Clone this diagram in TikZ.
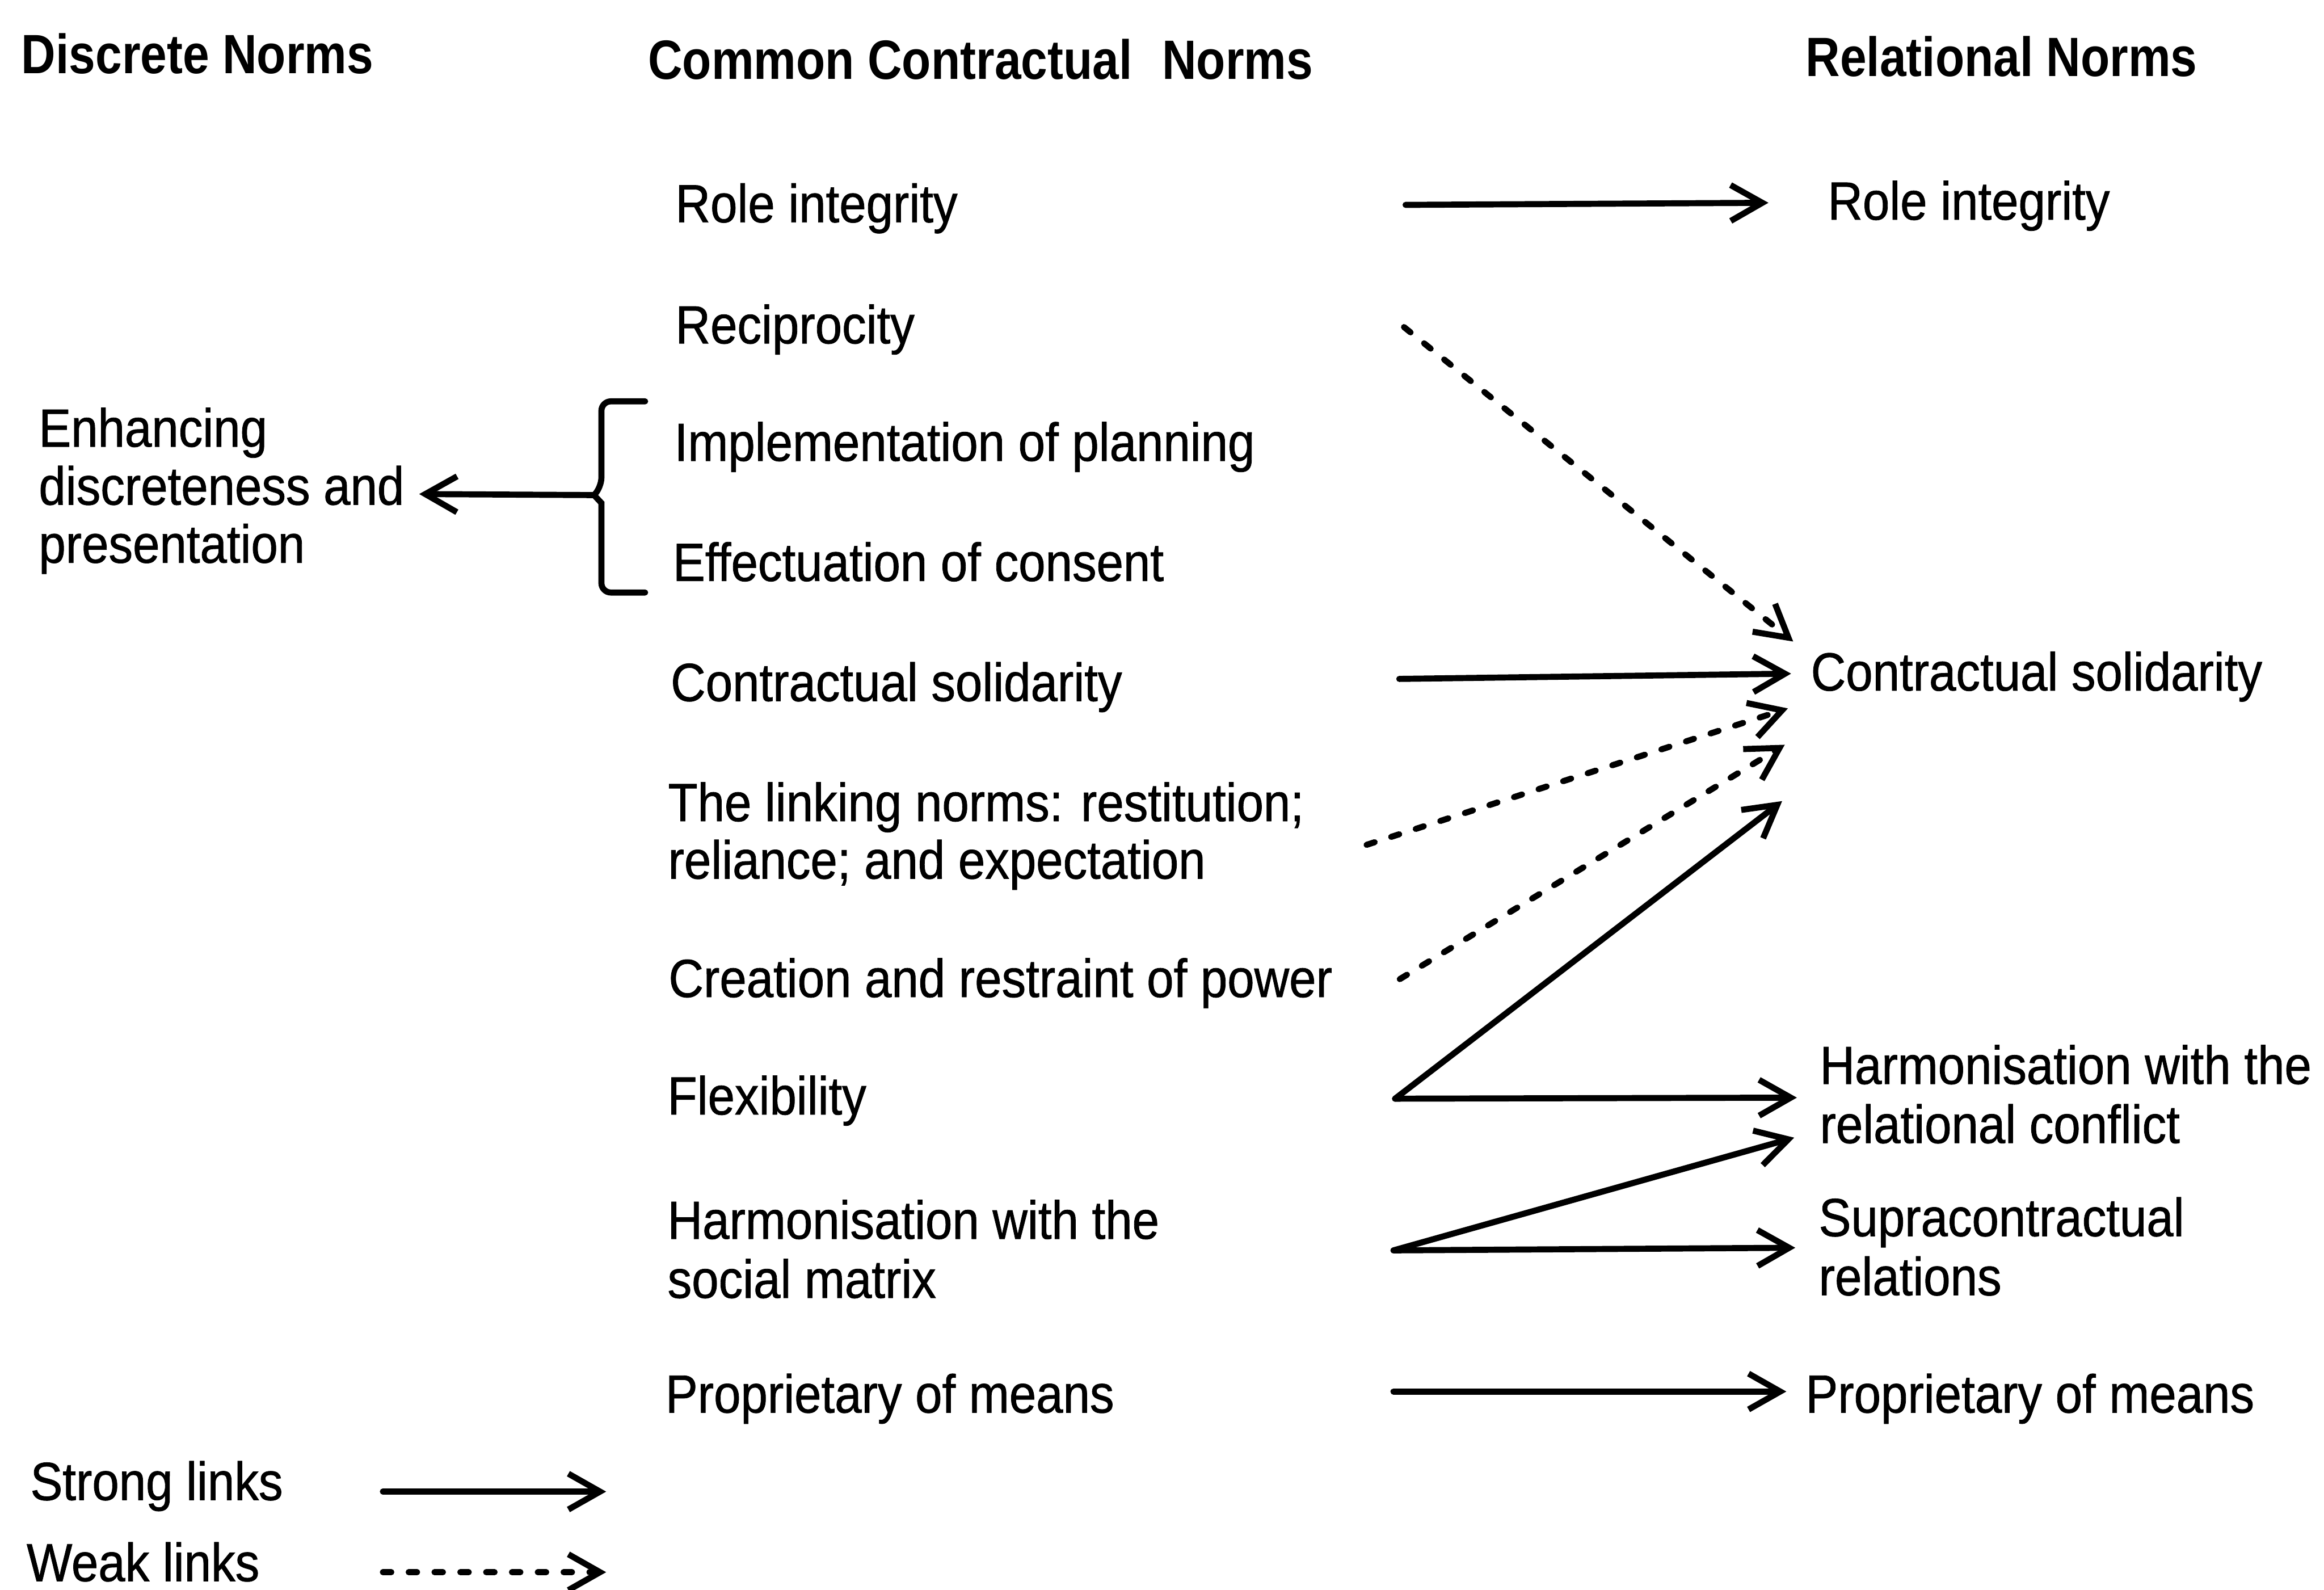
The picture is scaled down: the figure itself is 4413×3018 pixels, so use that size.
\documentclass[tikz,border=0pt]{standalone}
\usepackage{fontspec}
\setmainfont{Liberation Sans}[FakeStretch=0.9, FakeBold=0.9]
\newfontfamily\headfont{Liberation Sans}[FakeStretch=0.86]
\usetikzlibrary{arrows.meta}
% multi-line label whose baseline is that of its first line
\newcommand{\lns}[1]{\begin{tabular}[t]{@{}l@{}}#1\end{tabular}}

\begin{document}
\begin{tikzpicture}[x=0.01cm, y=-0.01cm,
  txt/.style={anchor=base west, inner sep=0pt,
    font=\fontsize{29pt}{31.9pt}\selectfont},
  head/.style={anchor=base west, inner sep=0pt,
    font=\headfont\bfseries\fontsize{29.9pt}{32pt}\selectfont},
  link/.style={line width=0.115cm, line cap=round, line join=round,
    -{Straight Barb[length=0.6cm,width=0.68cm]}},
  strong/.style={link},
  weak/.style={link, dash pattern=on 0.16cm off 0.33cm},
  brace/.style={line width=0.115cm, line cap=round},
]
\fill[white] (0,0) rectangle (4413,3018);
\useasboundingbox (0,0) rectangle (4413,3018);

% column headings
\node[head] (hdisc) at (40,140) {Discrete Norms};
\node[head] (hcomm) at (1230,150) {Common Contractual\hspace{0.3em} Norms};
\node[head] (hrel)  at (3428,145) {Relational Norms};

% discrete norms
\node[txt] (d-enh) at (73,848)
  {\lns{Enhancing\\[-0.02cm] discreteness and\\[-0.02cm] presentation}};

% common contractual norms
\node[txt] (c-role) at (1282,422)  {Role integrity};
\node[txt] (c-rec)  at (1282,652)  {Reciprocity};
\node[txt] (c-plan) at (1280,875)  {Implementation of planning};
\node[txt] (c-cons) at (1277,1103) {Effectuation of consent};
\node[txt] (c-sol)  at (1273,1331) {Contractual solidarity};
\node[txt] (c-link) at (1268,1559)
  {\lns{The linking norms: restitution;\\[-0.03cm] reliance; and expectation}};
\node[txt] (c-pow)  at (1269,1893) {Creation and restraint of power};
\node[txt] (c-flex) at (1267,2116) {Flexibility};
\node[txt] (c-soc)  at (1267,2352) {\lns{Harmonisation with the\\ social matrix}};
\node[txt] (c-prop) at (1263,2682) {Proprietary of means};

% relational norms
\node[txt] (r-role) at (3470,417)  {Role integrity};
\node[txt] (r-sol)  at (3438,1311) {Contractual solidarity};
\node[txt] (r-conf) at (3455,2058) {\lns{Harmonisation with the\\ relational conflict}};
\node[txt] (r-supr) at (3453,2347) {\lns{Supracontractual\\ relations}};
\node[txt] (r-prop) at (3428,2682) {Proprietary of means};

% legend
\node[txt] (k-strong) at (57,2848) {Strong links};
\node[txt] (k-weak)   at (50,3002) {Weak links};

% connector end points
\coordinate (role-out) at (2669,389);   \coordinate (role-in) at (3358,385);
\coordinate (rec-out)  at (2666,621);   \coordinate (sol-in1) at (3405,1218);
\coordinate (sol-out)  at (2657,1289);  \coordinate (sol-in2) at (3401,1279);
\coordinate (link-out) at (2595,1604);  \coordinate (sol-in3) at (3395,1345);
\coordinate (pow-out)  at (2658,1859);  \coordinate (sol-in4) at (3389,1414);
\coordinate (flex-out) at (2649,2086);  \coordinate (sol-in5) at (3384,1521);
\coordinate (conf-in1) at (3412,2084);
\coordinate (soc-out)  at (2646,2374);  \coordinate (conf-in2) at (3407,2160);
\coordinate (supr-in)  at (3409,2369);
\coordinate (prop-out) at (2646,2642);  \coordinate (prop-in) at (3392,2642);
\coordinate (cusp)     at (1128,940);   \coordinate (enh-in)  at (796,938);
\coordinate (ks-a) at (727,2832);       \coordinate (ks-b) at (1151,2832);
\coordinate (kw-a) at (727,2985);       \coordinate (kw-b) at (1151,2985);

% bracket grouping planning and consent
\draw[brace] (1225,762) [rounded corners=0.18cm] -| (1142,925)
  [sharp corners] -- (cusp) -- (1142,955)
  [rounded corners=0.18cm] |- (1225,1125);
\draw[strong] (cusp) -- (enh-in);

% links between the norms
\draw[strong] (role-out) -- (role-in);
\draw[weak]   (rec-out)  -- (sol-in1);
\draw[strong] (sol-out)  -- (sol-in2);
\draw[weak]   (link-out) -- (sol-in3);
\draw[weak]   (pow-out)  -- (sol-in4);
\draw[strong] (flex-out) -- (sol-in5);
\draw[strong] (flex-out) -- (conf-in1);
\draw[strong] (soc-out)  -- (conf-in2);
\draw[strong] (soc-out)  -- (supr-in);
\draw[strong] (prop-out) -- (prop-in);

% legend samples
\draw[strong] (ks-a) -- (ks-b);
\draw[weak]   (kw-a) -- (kw-b);
\end{tikzpicture}
\end{document}
